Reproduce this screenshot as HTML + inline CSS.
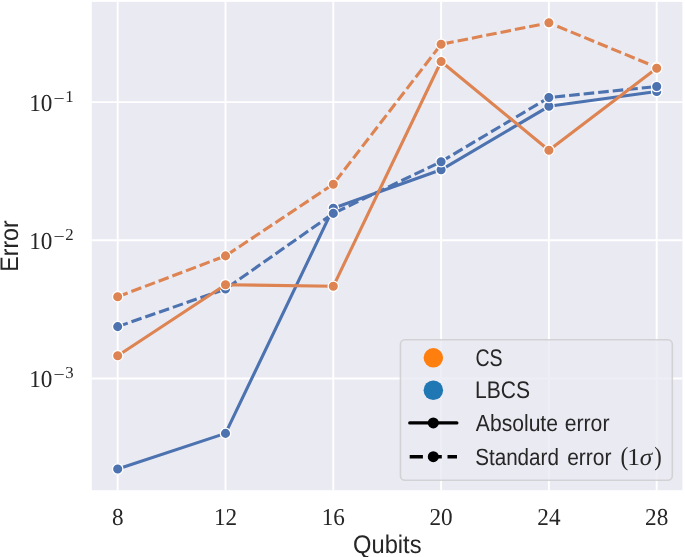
<!DOCTYPE html>
<html><head><meta charset="utf-8"><title>Error vs Qubits</title>
<style>html,body{margin:0;padding:0;background:#fff}svg{display:block}</style></head>
<body>
<svg width="685" height="557" viewBox="0 0 685 557">
<defs><clipPath id="c"><rect x="91.8" y="1.9" width="590.6" height="488.3"/></clipPath></defs>
<rect width="685" height="557" fill="#fff"/>
<rect x="91.8" y="1.9" width="590.6" height="488.3" fill="#eaeaf2"/>
<g stroke="#fff" stroke-width="1.9" stroke-linecap="butt">
<line x1="117.7" y1="1.9" x2="117.7" y2="490.2"/>
<line x1="225.5" y1="1.9" x2="225.5" y2="490.2"/>
<line x1="333.3" y1="1.9" x2="333.3" y2="490.2"/>
<line x1="441.1" y1="1.9" x2="441.1" y2="490.2"/>
<line x1="548.9" y1="1.9" x2="548.9" y2="490.2"/>
<line x1="656.7" y1="1.9" x2="656.7" y2="490.2"/>
<line x1="91.8" y1="102.1" x2="682.4" y2="102.1"/>
<line x1="91.8" y1="240.2" x2="682.4" y2="240.2"/>
<line x1="91.8" y1="378.5" x2="682.4" y2="378.5"/>
</g>
<g clip-path="url(#c)">
<polyline points="117.7,469.0 225.5,433.4 333.3,208.2 441.1,169.8 548.9,106.3 656.7,91.5" fill="none" stroke="#4c72b0" stroke-width="3.1" stroke-linejoin="round" stroke-linecap="round"/>
<circle cx="117.7" cy="469.0" r="5.2" fill="#4c72b0" stroke="#fff" stroke-width="1.3"/>
<circle cx="225.5" cy="433.4" r="5.2" fill="#4c72b0" stroke="#fff" stroke-width="1.3"/>
<circle cx="333.3" cy="208.2" r="5.2" fill="#4c72b0" stroke="#fff" stroke-width="1.3"/>
<circle cx="441.1" cy="169.8" r="5.2" fill="#4c72b0" stroke="#fff" stroke-width="1.3"/>
<circle cx="548.9" cy="106.3" r="5.2" fill="#4c72b0" stroke="#fff" stroke-width="1.3"/>
<circle cx="656.7" cy="91.5" r="5.2" fill="#4c72b0" stroke="#fff" stroke-width="1.3"/>

<polyline points="117.7,326.6 225.5,289.0 333.3,213.4 441.1,161.7 548.9,97.5 656.7,86.5" fill="none" stroke="#4c72b0" stroke-width="3.1" stroke-linejoin="round" stroke-dasharray="10.62 3.985" stroke-linecap="butt"/>
<circle cx="117.7" cy="326.6" r="5.2" fill="#4c72b0" stroke="#fff" stroke-width="1.3"/>
<circle cx="225.5" cy="289.0" r="5.2" fill="#4c72b0" stroke="#fff" stroke-width="1.3"/>
<circle cx="333.3" cy="213.4" r="5.2" fill="#4c72b0" stroke="#fff" stroke-width="1.3"/>
<circle cx="441.1" cy="161.7" r="5.2" fill="#4c72b0" stroke="#fff" stroke-width="1.3"/>
<circle cx="548.9" cy="97.5" r="5.2" fill="#4c72b0" stroke="#fff" stroke-width="1.3"/>
<circle cx="656.7" cy="86.5" r="5.2" fill="#4c72b0" stroke="#fff" stroke-width="1.3"/>

<polyline points="117.7,296.7 225.5,255.9 333.3,184.2 441.1,44.3 548.9,22.8 656.7,67.3" fill="none" stroke="#dd8452" stroke-width="3.1" stroke-linejoin="round" stroke-dasharray="10.62 3.985" stroke-linecap="butt"/>
<circle cx="117.7" cy="296.7" r="5.2" fill="#dd8452" stroke="#fff" stroke-width="1.3"/>
<circle cx="225.5" cy="255.9" r="5.2" fill="#dd8452" stroke="#fff" stroke-width="1.3"/>
<circle cx="333.3" cy="184.2" r="5.2" fill="#dd8452" stroke="#fff" stroke-width="1.3"/>
<circle cx="441.1" cy="44.3" r="5.2" fill="#dd8452" stroke="#fff" stroke-width="1.3"/>
<circle cx="548.9" cy="22.8" r="5.2" fill="#dd8452" stroke="#fff" stroke-width="1.3"/>
<circle cx="656.7" cy="67.3" r="5.2" fill="#dd8452" stroke="#fff" stroke-width="1.3"/>

<polyline points="117.7,355.7 225.5,284.7 333.3,286.3 441.1,61.5 548.9,150.2 656.7,68.3" fill="none" stroke="#dd8452" stroke-width="3.1" stroke-linejoin="round" stroke-linecap="round"/>
<circle cx="117.7" cy="355.7" r="5.2" fill="#dd8452" stroke="#fff" stroke-width="1.3"/>
<circle cx="225.5" cy="284.7" r="5.2" fill="#dd8452" stroke="#fff" stroke-width="1.3"/>
<circle cx="333.3" cy="286.3" r="5.2" fill="#dd8452" stroke="#fff" stroke-width="1.3"/>
<circle cx="441.1" cy="61.5" r="5.2" fill="#dd8452" stroke="#fff" stroke-width="1.3"/>
<circle cx="548.9" cy="150.2" r="5.2" fill="#dd8452" stroke="#fff" stroke-width="1.3"/>
<circle cx="656.7" cy="68.3" r="5.2" fill="#dd8452" stroke="#fff" stroke-width="1.3"/>

</g>
<g font-family="'Liberation Serif', serif" font-size="24.3" fill="#262626" text-rendering="geometricPrecision" text-anchor="middle">
<text x="117.7" y="524.8" textLength="11.60" lengthAdjust="spacingAndGlyphs">8</text>
<text x="225.5" y="524.8" textLength="23.20" lengthAdjust="spacingAndGlyphs">12</text>
<text x="333.3" y="524.8" textLength="23.20" lengthAdjust="spacingAndGlyphs">16</text>
<text x="441.1" y="524.8" textLength="23.20" lengthAdjust="spacingAndGlyphs">20</text>
<text x="548.9" y="524.8" textLength="23.20" lengthAdjust="spacingAndGlyphs">24</text>
<text x="656.7" y="524.8" textLength="23.20" lengthAdjust="spacingAndGlyphs">28</text>
</g>
<g font-family="'Liberation Serif', serif" font-size="24.3" fill="#262626" text-rendering="geometricPrecision">
<text x="29.2" y="110.8" textLength="23.2" lengthAdjust="spacingAndGlyphs">10</text>
<text x="53.4" y="103.8" font-size="16.8" textLength="11.2" lengthAdjust="spacingAndGlyphs">−</text>
<text x="65.3" y="102.0" font-size="16.8">1</text>
<text x="29.2" y="248.9" textLength="23.2" lengthAdjust="spacingAndGlyphs">10</text>
<text x="53.4" y="241.9" font-size="16.8" textLength="11.2" lengthAdjust="spacingAndGlyphs">−</text>
<text x="65.3" y="240.1" font-size="16.8">2</text>
<text x="29.2" y="387.2" textLength="23.2" lengthAdjust="spacingAndGlyphs">10</text>
<text x="53.4" y="380.2" font-size="16.8" textLength="11.2" lengthAdjust="spacingAndGlyphs">−</text>
<text x="65.3" y="378.4" font-size="16.8">3</text>
</g>
<rect x="400.45" y="339.8" width="271.85" height="140.4" rx="4.5" ry="4.5" fill="#eaeaf2" fill-opacity="0.8" stroke="#cccccc" stroke-opacity="0.8" stroke-width="1.6"/>
<circle cx="433.35" cy="357.85" r="9.75" fill="#ff7f0e"/>
<circle cx="433.35" cy="390.25" r="9.75" fill="#1f77b4"/>
<line x1="409.8" y1="422.9" x2="456.8" y2="422.9" stroke="#000" stroke-width="3.4" stroke-linecap="round"/>
<circle cx="433.3" cy="422.9" r="5.5" fill="#000"/>
<line x1="409.7" y1="456.7" x2="457" y2="456.7" stroke="#000" stroke-width="3.4" stroke-dasharray="13.2 5.7"/>
<circle cx="433.3" cy="456.7" r="5.5" fill="#000"/>
<g font-family="'Liberation Sans', sans-serif" fill="#262626" text-rendering="geometricPrecision">
<text x="475.45" y="366.0" font-size="24.1" textLength="27.21" lengthAdjust="spacingAndGlyphs">CS</text>
<text x="475.05" y="398.2" font-size="24.1" textLength="55.08" lengthAdjust="spacingAndGlyphs">LBCS</text>
<text x="475.86" y="430.9" font-size="23.4" textLength="82.10" lengthAdjust="spacingAndGlyphs">Absolute</text>
<text x="564.75" y="430.9" font-size="23.4" textLength="44.70" lengthAdjust="spacingAndGlyphs">error</text>
<text x="475.21" y="464.9" font-size="23.4" textLength="83.69" lengthAdjust="spacingAndGlyphs">Standard</text>
<text x="567.16" y="464.9" font-size="23.4" textLength="44.29" lengthAdjust="spacingAndGlyphs">error</text>
<text x="353.02" y="553.0" font-size="25.4" textLength="68.55" lengthAdjust="spacingAndGlyphs">Qubits</text>
<text transform="translate(17.7,271.71) rotate(-90)" font-size="25.4" textLength="51.41" lengthAdjust="spacingAndGlyphs">Error</text>
</g>
<g font-family="'Liberation Serif', serif" fill="#262626" text-rendering="geometricPrecision">
<text x="620.40" y="464.9" font-size="26.3" textLength="7.80" lengthAdjust="spacingAndGlyphs">(</text>
<text x="627.37" y="464.9" font-size="24.3" textLength="12.81" lengthAdjust="spacingAndGlyphs">1</text>
<text x="639.71" y="464.9" font-size="24.3" font-style="italic" textLength="12.48" lengthAdjust="spacingAndGlyphs">σ</text>
<text x="654.15" y="464.9" font-size="26.3" textLength="7.48" lengthAdjust="spacingAndGlyphs">)</text>
</g>
</svg>
</body></html>
